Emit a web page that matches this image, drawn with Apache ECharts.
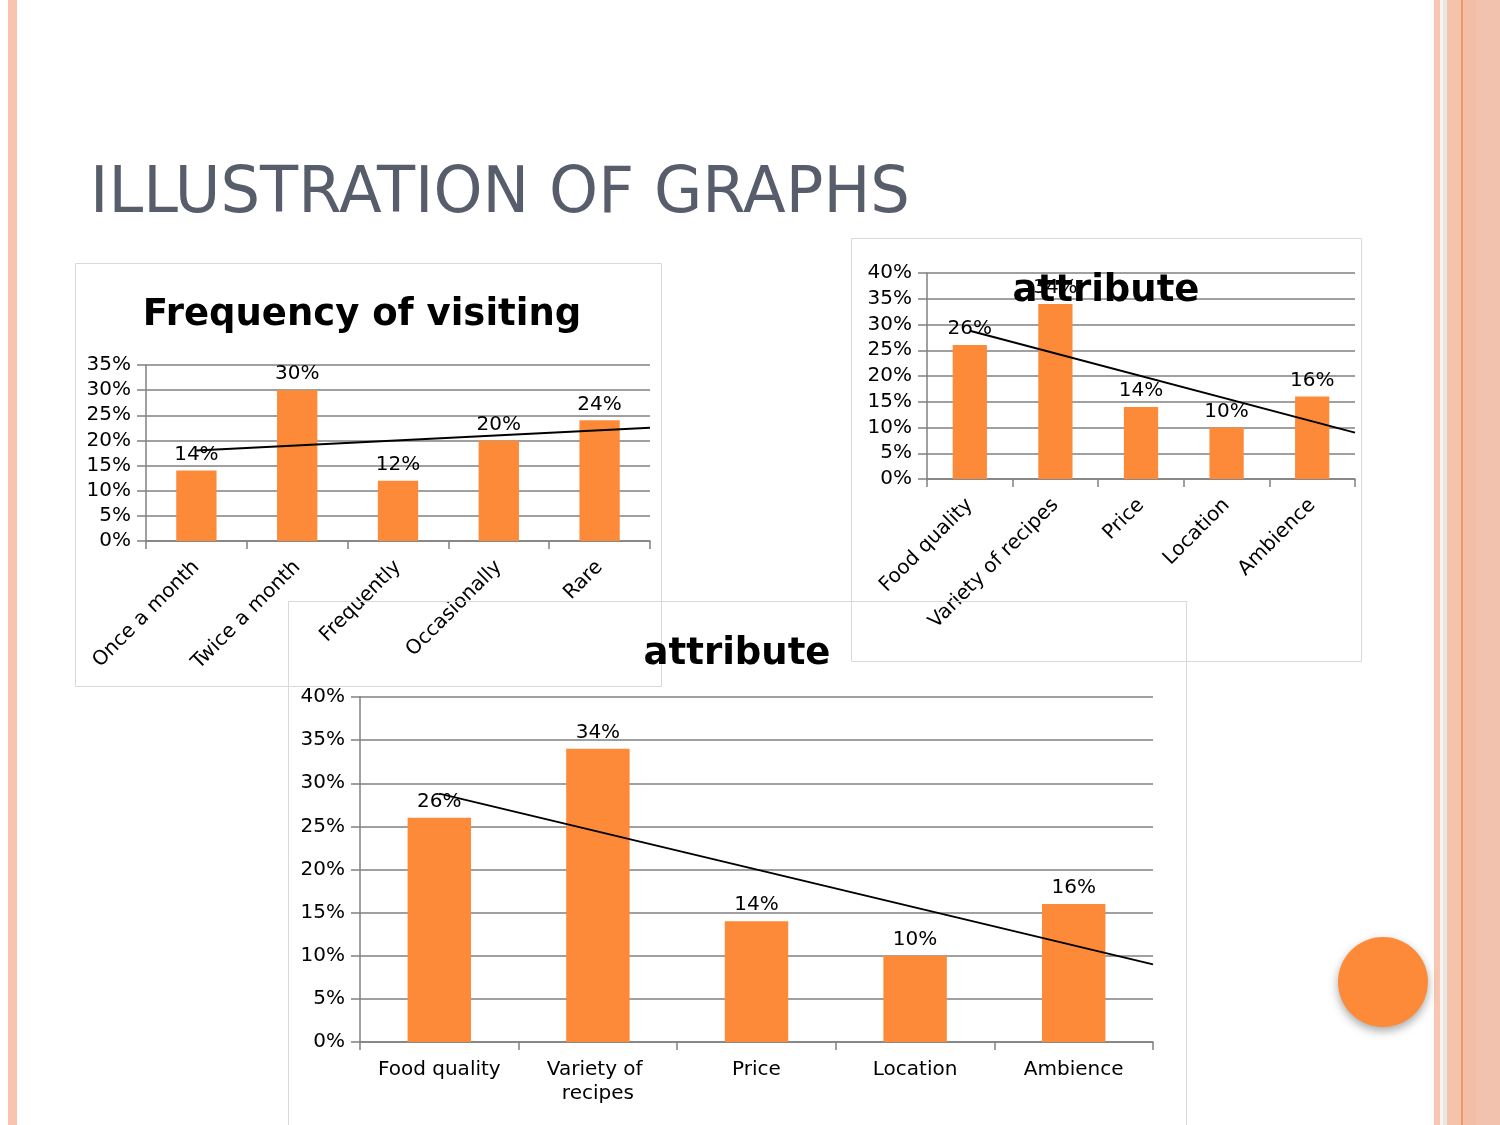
<!DOCTYPE html>
<html><head><meta charset="utf-8">
<script src="https://cdn.jsdelivr.net/npm/echarts@6/dist/echarts.min.js"></script>
<style>html,body{margin:0;padding:0;background:#fff}#c{width:1500px;height:1125px}</style>
</head><body><div id="c"></div>
<script>
const slideTitle = "ILLUSTRATION OF GRAPHS";
const freqTitle = "Frequency of visiting";
const freqCategories = ["Once a month", "Twice a month", "Frequently", "Occasionally", "Rare"];
const freqValues = [14, 30, 12, 20, 24];
const attrTitle = "attribute";
const attrCategories = ["Food quality", "Variety of recipes", "Price", "Location", "Ambience"];
const attrValues = [26, 34, 14, 10, 16];
const freqTicks = [0, 35, 5];   // min, max, interval (%)
const attrTicks = [0, 40, 5];

const FONT = "'DejaVu Sans', sans-serif";
const BAR = '#FD8A38';
const GRIDC = '#808080';
const FS = 20;

// Linear (least-squares) trendline, like the spreadsheet's, over category index
function trend(vals, xEnd) {
  const n = vals.length;
  const mx = (n - 1) / 2;
  const my = vals.reduce((a, b) => a + b, 0) / n;
  let sxy = 0, sxx = 0;
  vals.forEach((v, i) => { sxy += (i - mx) * (v - my); sxx += (i - mx) * (i - mx); });
  const b = sxy / sxx, a = my - b * mx;
  return [[0, a], [xEnd, a + b * xEnd]];
}

const grids = [
  { left: 146, top: 365, width: 504, height: 176 },
  { left: 927, top: 273, width: 428, height: 206 },
  { left: 360, top: 697, width: 793, height: 345 }
];

function catAxis(gi, cats, rotate, extra) {
  return Object.assign({
    type: 'category', gridIndex: gi, data: cats,
    axisLine: { onZero: false, lineStyle: { color: GRIDC, width: 1.5 } },
    axisTick: { show: true, length: 8, lineStyle: { color: GRIDC, width: 1.5 } },
    axisLabel: { rotate: rotate, fontFamily: FONT, fontSize: FS, color: '#000', margin: 23, interval: 0 }
  }, extra || {});
}
function valAxis(gi, t) {
  return {
    type: 'value', gridIndex: gi, min: t[0], max: t[1], interval: t[2],
    axisLine: { show: true, onZero: false, lineStyle: { color: GRIDC, width: 1.5 } },
    axisTick: { show: true, length: 9, lineStyle: { color: GRIDC, width: 1.5 } },
    splitLine: { lineStyle: { color: GRIDC, width: 1.5 } },
    axisLabel: { formatter: '{value}%', fontFamily: FONT, fontSize: FS, color: '#000', margin: 15 }
  };
}
function hiddenX(gi) {
  return { type: 'value', gridIndex: gi, min: -0.5, max: 4.5, show: false };
}
function barSeries(i, vals) {
  return {
    type: 'bar', xAxisIndex: i, yAxisIndex: i, data: vals, barWidth: '40%',
    itemStyle: { color: BAR },
    label: { show: true, position: 'top', distance: 6, formatter: '{c}%', fontFamily: FONT, fontSize: FS, color: '#000' },
    z: 2
  };
}
function lineSeries(i, vals) {
  return {
    type: 'line', xAxisIndex: 3 + i, yAxisIndex: i, data: trend(vals, 4.5),
    symbol: 'none', lineStyle: { color: '#000', width: 2 }, z: 5, silent: true
  };
}

const bottomExtra = {
  axisLabel: { fontFamily: FONT, fontSize: FS, color: '#000', margin: 16, interval: 0,
    width: 150, overflow: 'break', lineHeight: 24 }
};

const chart = echarts.init(document.getElementById('c'), null, { renderer: 'canvas' });
chart.setOption({
  animation: false,
  backgroundColor: '#fff',
  grid: grids,
  xAxis: [
    catAxis(0, freqCategories, 45),
    catAxis(1, attrCategories, 45),
    catAxis(2, attrCategories, 0, bottomExtra),
    hiddenX(0), hiddenX(1), hiddenX(2)
  ],
  yAxis: [valAxis(0, freqTicks), valAxis(1, attrTicks), valAxis(2, attrTicks)],
  series: [
    barSeries(0, freqValues), lineSeries(0, freqValues),
    barSeries(1, attrValues), lineSeries(1, attrValues),
    barSeries(2, attrValues), lineSeries(2, attrValues)
  ],
  graphic: [
    // left stripe
    { type: 'rect', shape: { x: 8, y: 0, width: 9, height: 1125 }, style: { fill: '#F9C3AE' }, z: 0 },
    // right stripes
    { type: 'rect', shape: { x: 1434, y: 0, width: 66, height: 1125 }, style: { fill: '#F3BEA8' }, z: 0 },
    { type: 'rect', shape: { x: 1434, y: 0, width: 6, height: 1125 }, style: { fill: '#F9C6B2' }, z: 0 },
    { type: 'rect', shape: { x: 1440, y: 0, width: 3, height: 1125 }, style: { fill: '#FDF2EE' }, z: 0 },
    { type: 'rect', shape: { x: 1443, y: 0, width: 4, height: 1125 }, style: { fill: '#E3E9E6' }, z: 0 },
    { type: 'rect', shape: { x: 1447, y: 0, width: 14, height: 1125 }, style: { fill: '#F5C2AC' }, z: 0 },
    { type: 'rect', shape: { x: 1461, y: 0, width: 2, height: 1125 }, style: { fill: '#EE9868' }, z: 0 },
    { type: 'rect', shape: { x: 1476, y: 0, width: 24, height: 1125 }, style: { fill: '#F2C2AE' }, z: 0 },
    // chart frames
    { type: 'rect', shape: { x: 75.5, y: 263.5, width: 586, height: 423 }, style: { fill: 'none', stroke: '#D9D9D9', lineWidth: 1 }, z: 1 },
    { type: 'rect', shape: { x: 851.5, y: 238.5, width: 510, height: 423 }, style: { fill: 'none', stroke: '#D9D9D9', lineWidth: 1 }, z: 1 },
    { type: 'rect', shape: { x: 288.5, y: 601.5, width: 898, height: 540 }, style: { fill: 'none', stroke: '#D9D9D9', lineWidth: 1 }, z: 1 },
    // slide title
    { type: 'text', x: 90, y: 195, scaleX: 0.975, style: { text: slideTitle, fill: '#575D6A', font: "64px 'DejaVu Sans', sans-serif", verticalAlign: 'middle', align: 'left' }, z: 10 },
    // chart titles
    { type: 'text', x: 362, y: 315, style: { text: freqTitle, fill: '#000', font: "bold 37px 'DejaVu Sans', sans-serif", verticalAlign: 'middle', align: 'center' }, z: 100 },
    { type: 'text', x: 1106, y: 291, style: { text: attrTitle, fill: '#000', font: "bold 37px 'DejaVu Sans', sans-serif", verticalAlign: 'middle', align: 'center' }, z: 100 },
    { type: 'text', x: 737, y: 654, style: { text: attrTitle, fill: '#000', font: "bold 37px 'DejaVu Sans', sans-serif", verticalAlign: 'middle', align: 'center' }, z: 100 },
    // orange circle
    { type: 'circle', shape: { cx: 1383, cy: 982, r: 45 }, style: { fill: '#FD8A38', shadowBlur: 10, shadowColor: 'rgba(0,0,0,0.35)', shadowOffsetY: 4 }, z: 10 }
  ]
});
</script></body></html>
